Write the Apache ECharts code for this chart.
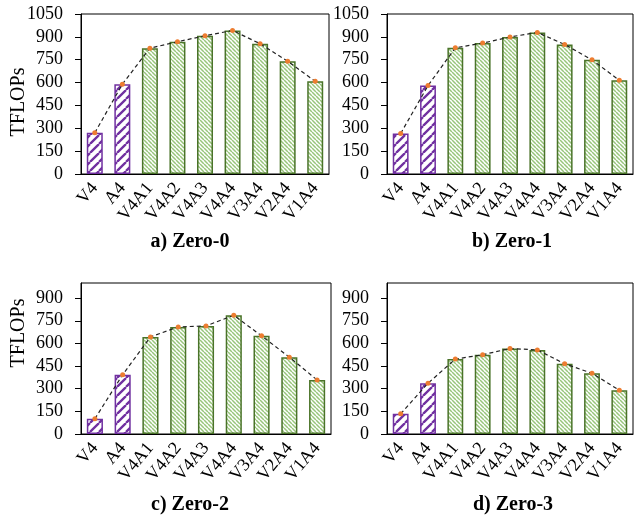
<!DOCTYPE html>
<html>
<head>
<meta charset="utf-8">
<script src="https://cdn.jsdelivr.net/npm/echarts@6/dist/echarts.min.js"></script>
<style>
	html, body { margin: 0; padding: 0; background: #fff; }
	#chart { width: 634px; height: 517px; }
</style>
</head>
<body>
<div id="chart"></div>
<script>
// 数据
var categories = ['V4', 'A4', 'V4A1', 'V4A2', 'V4A3', 'V4A4', 'V3A4', 'V2A4', 'V1A4'];
var zero0 = [270, 589, 826, 868, 907, 942, 855, 740, 608];
var zero1 = [266, 580, 828, 859, 899, 929, 850, 749, 615];
var zero2 = [101, 393, 643, 709, 716, 786, 650, 509, 358];
var zero3 = [134, 336, 496, 525, 566, 557, 465, 402, 290];
var ticksTop = [0, 150, 300, 450, 600, 750, 900, 1050];
var ticksBottom = [0, 150, 300, 450, 600, 750, 900];
var panelTitles = ['a) Zero-0', 'b) Zero-1', 'c) Zero-2', 'd) Zero-3'];

var FONT = "'Liberation Serif', 'Times New Roman', serif";
var PURPLE = '#7030A0';
var GREEN_DARK = '#4A7329';
var GREEN_LIGHT = '#98C57B';

// 斜线填充
function stripes(size, color, lineW, dir) {
	var c = document.createElement('canvas');
	c.width = c.height = size;
	var g = c.getContext('2d');
	g.fillStyle = '#fff';
	g.fillRect(0, 0, size, size);
	g.strokeStyle = color;
	g.lineWidth = lineW;
	g.beginPath();
	for (var k = -1; k <= 1; k++) {
		if (dir === '/') {
			g.moveTo(k * size, size);
			g.lineTo(k * size + size, 0);
		} else {
			g.moveTo(k * size, 0);
			g.lineTo(k * size + size, size);
		}
	}
	g.stroke();
	return { image: c, repeat: 'repeat' };
}

var purpleFill = stripes(9, PURPLE, 2.3, '/');
var greenFill = stripes(4, GREEN_LIGHT, 1.5, '\\');

var grids = [
	{ left: 81, top: 14, width: 248, height: 160 },
	{ left: 387, top: 14, width: 246, height: 160 },
	{ left: 81, top: 283, width: 250, height: 151 },
	{ left: 387, top: 283, width: 246, height: 151 }
];
var panelData = [zero0, zero1, zero2, zero3];
var titlePos = [[190, 232], [512, 232], [190, 495], [513, 495]];

var option = {
	animation: false,
	textStyle: { fontFamily: FONT, color: '#000' },
	title: panelTitles.map(function (t, i) {
		return {
			text: t,
			left: titlePos[i][0],
			top: titlePos[i][1],
			textAlign: 'center',
			padding: 0,
			textStyle: { fontFamily: FONT, fontWeight: 'bold', fontSize: 20, color: '#000' }
		};
	}),
	grid: grids.map(function (g) {
		return Object.assign({ show: true, borderColor: '#000', borderWidth: 1, containLabel: false }, g);
	}),
	xAxis: grids.map(function (g, i) {
		return {
			type: 'category',
			gridIndex: i,
			data: categories,
			axisLine: { lineStyle: { color: '#000', width: 1 } },
			axisTick: { alignWithLabel: true, length: 4, lineStyle: { color: '#000' } },
			axisLabel: { rotate: 50, margin: 11, fontSize: 18, fontFamily: FONT, color: '#000', interval: 0 }
		};
	}),
	yAxis: grids.map(function (g, i) {
		var top = i < 2;
		var ticks = top ? ticksTop : ticksBottom;
		return {
			type: 'value',
			gridIndex: i,
			min: 0,
			max: top ? 1050 : 1000,
			interval: 150,
			splitLine: { show: false },
			axisLine: { show: true, lineStyle: { color: '#000', width: 1 } },
			axisTick: { show: true, length: 6, lineStyle: { color: '#000' }, customValues: ticks },
			axisLabel: {
				margin: 18, fontSize: 18, fontFamily: FONT, color: '#000', customValues: ticks,
				formatter: function (v) { return String(v); }
			}
		};
	}),
	graphic: [
		{ type: 'text', x: 19, y: 102, rotation: Math.PI / 2,
			style: { text: 'TFLOPs', font: '20px ' + FONT, fill: '#000', align: 'center', verticalAlign: 'middle' } },
		{ type: 'text', x: 19, y: 333, rotation: Math.PI / 2,
			style: { text: 'TFLOPs', font: '20px ' + FONT, fill: '#000', align: 'center', verticalAlign: 'middle' } }
	],
	series: []
};

panelData.forEach(function (vals, i) {
	option.series.push({
		type: 'bar',
		xAxisIndex: i,
		yAxisIndex: i,
		barWidth: '58%',
		data: vals.map(function (v, j) {
			var purple = j < 2;
			return {
				value: v,
				itemStyle: {
					color: purple ? purpleFill : greenFill,
					borderColor: purple ? PURPLE : GREEN_DARK,
					borderWidth: 1.5
				}
			};
		})
	});
	option.series.push({
		type: 'line',
		xAxisIndex: i,
		yAxisIndex: i,
		data: vals,
		symbol: 'circle',
		symbolSize: 5,
		itemStyle: { color: '#ED7D31' },
		lineStyle: { color: '#222', width: 1.2, type: [4, 3] },
		z: 5
	});
});

var chart = echarts.init(document.getElementById('chart'));
chart.setOption(option);
</script>
</body>
</html>
